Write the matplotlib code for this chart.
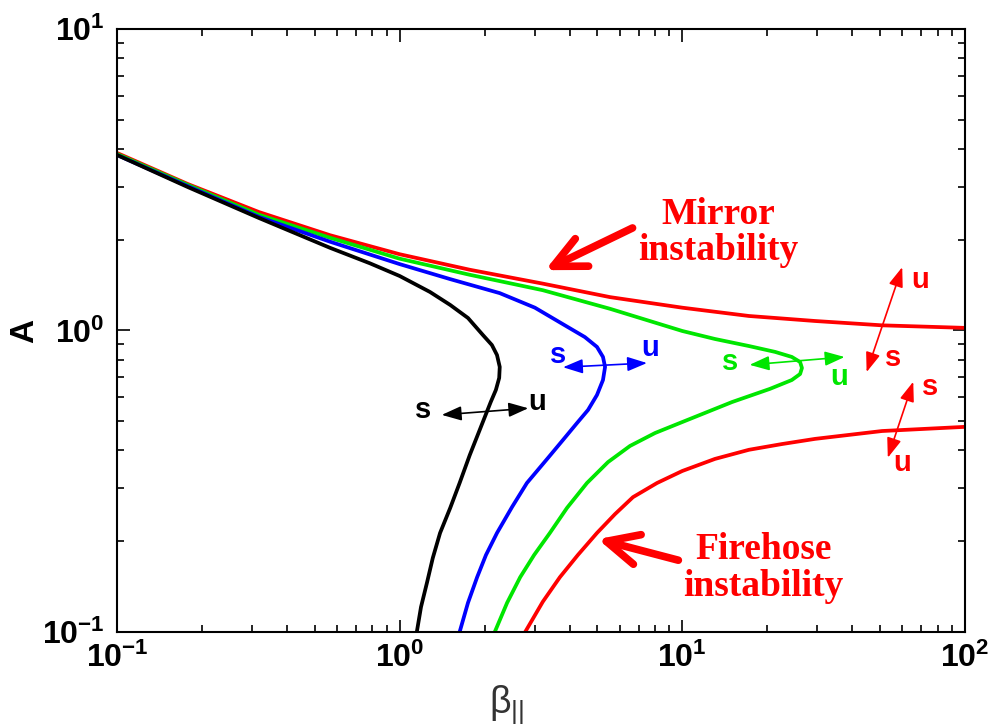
import numpy as np
import matplotlib
matplotlib.use("Agg")
import matplotlib.pyplot as plt
from matplotlib.ticker import NullFormatter, LogLocator

# curves (beta_par, A), ordered along each curve
black_beta = [0.1, 0.178, 0.318, 0.567, 0.785, 1.0, 1.28, 1.51, 1.745, 1.97, 2.12, 2.21, 2.26, 2.25, 2.19,
              2.10, 2.02, 1.92, 1.77, 1.63, 1.51, 1.39, 1.31, 1.25, 1.19, 1.15]
black_A = [3.82, 2.99, 2.36, 1.88, 1.67, 1.516, 1.342, 1.215, 1.10, 0.966, 0.895, 0.829, 0.757, 0.696, 0.635,
           0.579, 0.528, 0.468, 0.386, 0.312, 0.258, 0.213, 0.176, 0.146, 0.121, 0.1]

blue_beta = [0.1, 0.178, 0.318, 0.567, 1.0, 1.51, 2.26, 3.01, 3.91, 4.52, 4.99, 5.24, 5.33, 5.24, 4.99,
             4.64, 4.24, 3.78, 3.35, 2.82, 2.50, 2.21, 2.02, 1.88, 1.745, 1.63]
blue_A = [3.82, 3.01, 2.38, 1.97, 1.66, 1.48, 1.33, 1.19, 1.03, 0.951, 0.882, 0.817, 0.757, 0.685, 0.611,
          0.545, 0.493, 0.433, 0.378, 0.312, 0.260, 0.213, 0.180, 0.152, 0.125, 0.1]

green_beta = [0.1, 0.178, 0.318, 0.567, 1.0, 1.77, 3.21, 5.55, 10.0, 13.05, 17.2, 21.3, 24.4, 26.1, 26.5,
              26.1, 24.4, 20.4, 15.0, 10.0, 8.01, 6.53, 5.46, 4.60, 3.91, 3.40, 2.99, 2.67, 2.40, 2.17]
green_A = [3.85, 3.04, 2.42, 2.03, 1.73, 1.53, 1.36, 1.18, 0.996, 0.937, 0.888, 0.849, 0.817, 0.786, 0.751,
           0.717, 0.685, 0.640, 0.579, 0.497, 0.457, 0.414, 0.366, 0.312, 0.258, 0.213, 0.180, 0.152, 0.125, 0.1]

mirror_beta = [0.1, 0.178, 0.318, 0.567, 1.0, 1.77, 3.21, 5.55, 10.0, 17.2, 29.5, 50.9, 100.0]
mirror_A = [3.88, 3.06, 2.47, 2.07, 1.79, 1.59, 1.43, 1.29, 1.19, 1.117, 1.075, 1.04, 1.02]

firehose_beta = [2.78, 3.21, 3.69, 4.27, 4.99, 5.78, 6.69, 8.14, 10.0, 13.05, 17.2, 22.5, 29.5, 50.9, 100.0]
firehose_A = [0.1, 0.126, 0.152, 0.180, 0.213, 0.246, 0.280, 0.312, 0.342, 0.375, 0.402, 0.420, 0.437,
              0.464, 0.479]

tick_vals_x = [0.1, 1, 10, 100]
tick_labels_x = [r'$\mathbf{10^{-1}}$', r'$\mathbf{10^{0}}$', r'$\mathbf{10^{1}}$', r'$\mathbf{10^{2}}$']
tick_vals_y = [0.1, 1, 10]
tick_labels_y = [r'$\mathbf{10^{-1}}$', r'$\mathbf{10^{0}}$', r'$\mathbf{10^{1}}$']

plt.rcParams['font.family'] = ['Liberation Sans', 'DejaVu Sans']
plt.rcParams['mathtext.fontset'] = 'custom'
plt.rcParams['mathtext.rm'] = 'Liberation Sans'
plt.rcParams['mathtext.bf'] = 'Liberation Sans:bold'
plt.rcParams['mathtext.it'] = 'Liberation Sans:italic'

RED = '#ff0000'
GREEN = '#00e600'
BLUE = '#0000ff'

fig = plt.figure(figsize=(9.88, 7.24), dpi=100)
ax = fig.add_axes([0.1184, 0.1271, 0.8583, 0.8329])

lw = 2.7
ax.plot(mirror_beta, mirror_A, color=RED, lw=lw, solid_joinstyle='round')
ax.plot(firehose_beta, firehose_A, color=RED, lw=lw, solid_joinstyle='round')
ax.plot(green_beta, green_A, color=GREEN, lw=lw, solid_joinstyle='round')
ax.plot(blue_beta, blue_A, color=BLUE, lw=lw, solid_joinstyle='round')
ax.plot(black_beta, black_A, color='black', lw=lw, solid_joinstyle='round')

ax.set_xscale('log')
ax.set_yscale('log')
ax.set_xlim(0.1, 100)
ax.set_ylim(0.1, 10)
ax.set_xticks(tick_vals_x)
ax.set_xticklabels(tick_labels_x)
ax.set_yticks(tick_vals_y)
ax.set_yticklabels(tick_labels_y)
ax.xaxis.set_minor_locator(LogLocator(base=10, subs=np.arange(2, 10)))
ax.yaxis.set_minor_locator(LogLocator(base=10, subs=np.arange(2, 10)))
ax.xaxis.set_minor_formatter(NullFormatter())
ax.yaxis.set_minor_formatter(NullFormatter())
ax.tick_params(which='both', direction='in', top=True, right=True, width=1.2, labelsize=23)
ax.tick_params(which='major', length=9)
ax.tick_params(which='minor', length=5)
ax.tick_params(axis='x', which='major', pad=8)
ax.tick_params(axis='y', which='major', pad=9)
for s in ax.spines.values():
    s.set_linewidth(1.5)

ax.set_xlabel(r'$\mathrm{\beta}_{||}$', fontsize=27, color='#333333')
ax.xaxis.set_label_coords(0.46, -0.085)
ax.set_ylabel('A', fontsize=24, fontweight='bold')
ax.yaxis.set_label_coords(-0.09, 0.5)

# big annotation arrows
big = dict(arrowstyle='->,head_length=1.15,head_width=0.55', color=RED, lw=5.5,
           mutation_scale=20, shrinkA=0, shrinkB=0, capstyle='round', joinstyle='round')
ax.annotate('', xy=(0.505, 0.600), xytext=(0.608, 0.670), xycoords='axes fraction', arrowprops=big)
ax.annotate('', xy=(0.567, 0.154), xytext=(0.662, 0.119), xycoords='axes fraction', arrowprops=big)
ax.text(0.709, 0.662, 'Mirror\ninstability', transform=ax.transAxes, ha='center', va='center',
        color=RED, fontsize=27, fontweight='bold', family='Liberation Serif', linespacing=1.05)
ax.text(0.762, 0.106, 'Firehose\ninstability', transform=ax.transAxes, ha='center', va='center',
        color=RED, fontsize=27, fontweight='bold', family='Liberation Serif', linespacing=1.05)

# small stable/unstable arrows
def su_arrow(p0, p1, c, s_pos, u_pos):
    ax.annotate('', xy=p1, xytext=p0, xycoords='axes fraction',
                arrowprops=dict(arrowstyle='<|-|>,head_length=0.6,head_width=0.22', color=c, lw=1.2,
                                mutation_scale=20, shrinkA=0, shrinkB=0))
    ax.text(s_pos[0], s_pos[1], 's', transform=ax.transAxes, ha='center', va='center', color=c,
            fontsize=21, fontweight='bold')
    ax.text(u_pos[0], u_pos[1], 'u', transform=ax.transAxes, ha='center', va='center', color=c,
            fontsize=21, fontweight='bold')

su_arrow((0.383, 0.360), (0.485, 0.371), 'black', (0.361, 0.368), (0.495, 0.381))
su_arrow((0.526, 0.439), (0.625, 0.446), BLUE, (0.520, 0.459), (0.629, 0.471))
su_arrow((0.746, 0.443), (0.858, 0.456), GREEN, (0.723, 0.448), (0.851, 0.423))
su_arrow((0.884, 0.431), (0.926, 0.605), RED, (0.915, 0.454), (0.947, 0.584))
su_arrow((0.909, 0.289), (0.939, 0.415), RED, (0.959, 0.406), (0.926, 0.280))

fig.savefig('out.png', dpi=100)
